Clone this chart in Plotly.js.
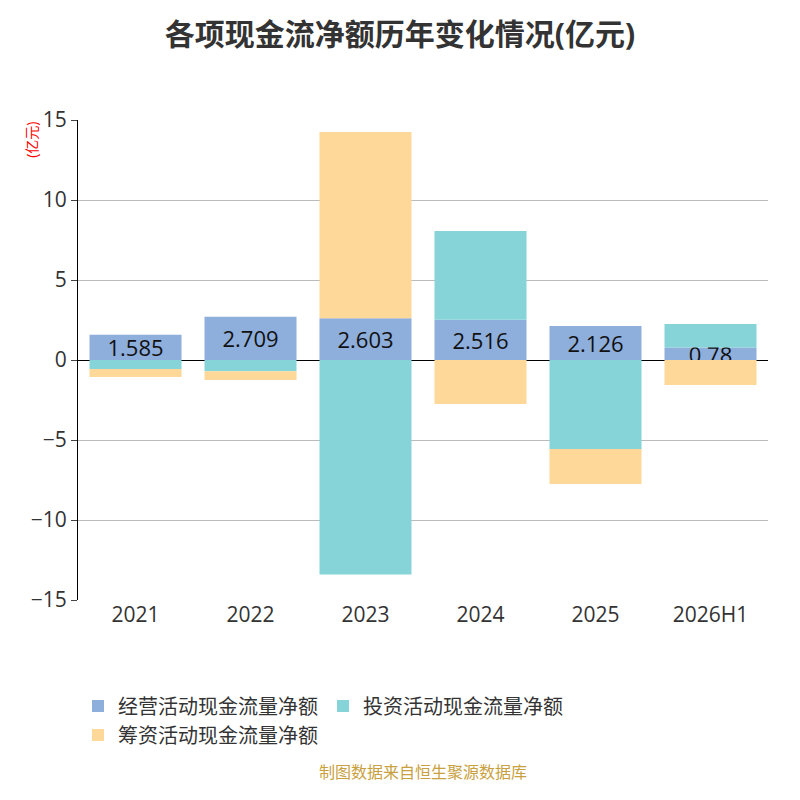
<!DOCTYPE html>
<html><head><meta charset="utf-8">
<script src="https://cdn.plot.ly/plotly-3.0.1.min.js"></script>
<style>body{margin:0}#plot{width:800px;height:800px}</style>
</head><body><div id="plot"></div>
<script>
var years = ['2021', '2022', '2023', '2024', '2025', '2026H1'];
var operating = [1.585, 2.709, 2.603, 2.516, 2.126, 0.78];
var investing = [-0.56, -0.7, -13.4, 5.54, -5.56, 1.47];
var financing = [-0.5, -0.55, 11.65, -2.75, -2.19, -1.56];
var F = '"Open Sans", "Noto Sans CJK SC", sans-serif';

var data = [
  {x: years, y: operating, type: 'bar', name: '经营活动现金流量净额', marker: {color: '#8eaedc'},
   text: operating.map(String), textposition: 'inside', insidetextanchor: 'middle',
   textfont: {size: 22, color: '#111'}, constraintext: 'none', cliponaxis: false},
  {x: years, y: investing, type: 'bar', name: '投资活动现金流量净额', marker: {color: '#86d4d8'}},
  {x: years, y: financing, type: 'bar', name: '筹资活动现金流量净额', marker: {color: '#fdd898'}}
];

var layout = {
  width: 800, height: 800, barmode: 'relative', bargap: 0.2,
  font: {family: F, color: '#333'},
  title: {text: '<b>各项现金流净额历年变化情况(亿元)</b>', x: 0.5, y: 0.97, font: {size: 30, color: '#333'}},
  margin: {l: 78, r: 32, t: 120, b: 200},
  xaxis: {type: 'category', tickfont: {size: 21}, showline: false, ticks: '', zeroline: false},
  yaxis: {range: [-15, 15], dtick: 5, tickfont: {size: 21}, gridcolor: '#bbb',
          zeroline: true, zerolinecolor: '#000', zerolinewidth: 1, showline: true, linecolor: '#000', ticks: 'outside', ticklen: 6},
  showlegend: true,
  legend: {orientation: 'h', x: 0, y: -0.18, xanchor: 'left', font: {size: 20}, traceorder: 'normal'},
  annotations: [
    {text: '(亿元)', xref: 'paper', yref: 'paper', x: -0.085, y: 1.0, textangle: -90, showarrow: false, font: {size: 14, color: 'red'}, yanchor: 'top'},
    {text: '制图数据来自恒生聚源数据库', xref: 'paper', yref: 'paper', x: 0.5, y: -0.385, showarrow: false, font: {size: 16, color: '#c8a040'}}
  ]
};
Plotly.newPlot('plot', data, layout, {displayModeBar: false});
</script></body></html>
